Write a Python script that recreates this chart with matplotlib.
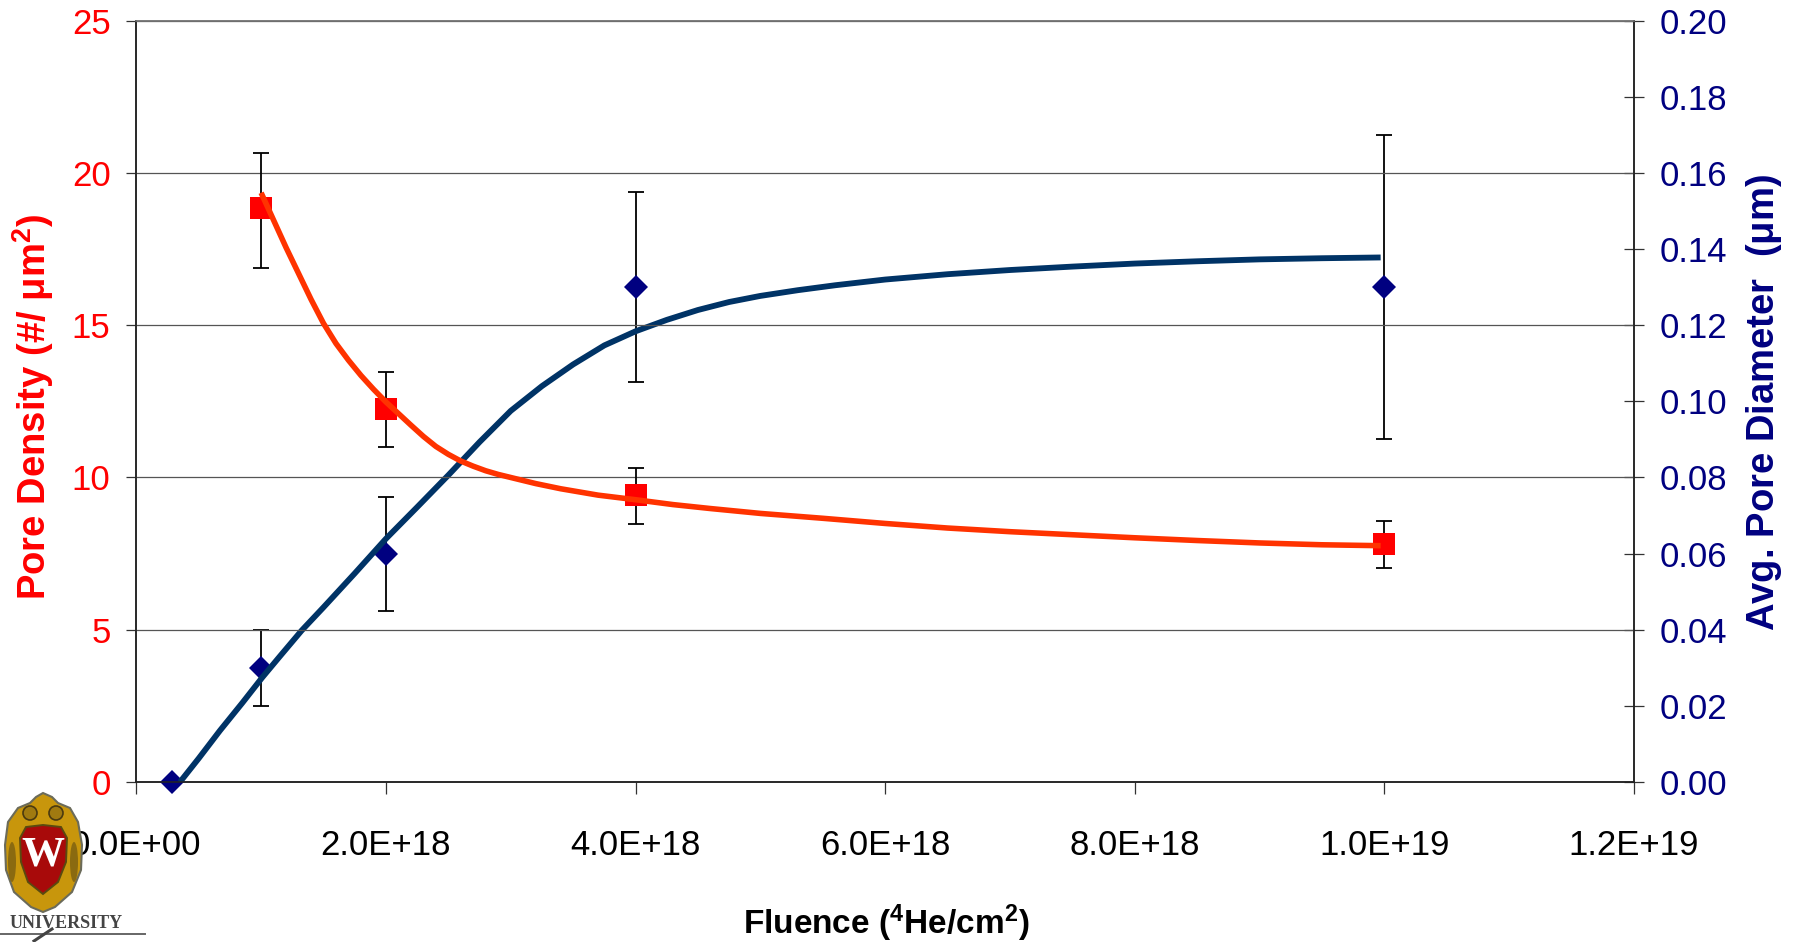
import numpy as np
import matplotlib
matplotlib.use("Agg")
import matplotlib.pyplot as plt
from matplotlib.patches import Ellipse, Polygon, Circle

plt.rcParams['font.family'] = ['Liberation Sans', 'DejaVu Sans']
plt.rcParams['mathtext.fontset'] = 'custom'
plt.rcParams['mathtext.rm'] = 'Liberation Sans'
plt.rcParams['mathtext.bf'] = 'Liberation Sans:bold'
plt.rcParams['mathtext.default'] = 'bf'

# fluence in units of 1e18 He/cm2
density_x = [1, 2, 4, 10]
density = [18.85, 12.26, 9.43, 7.82]
density_top = [20.64, 13.45, 10.31, 8.56]
density_bot = [16.88, 11.0, 8.47, 7.02]

diam_x = [0.29, 1, 2, 4, 10]
diam = [0.0, 0.03, 0.06, 0.13, 0.13]
diam_top = [0.0, 0.04, 0.075, 0.155, 0.17]
diam_bot = [0.0, 0.02, 0.045, 0.105, 0.09]

# trend curves
red_curve_x = [1.0, 1.1, 1.2, 1.3, 1.4, 1.5, 1.6, 1.7, 1.8, 1.9, 2.0, 2.1, 2.2, 2.3, 2.4, 2.5, 2.6, 2.7, 2.8, 2.9,
               3.0, 3.2, 3.4, 3.7, 4.0, 4.3, 4.6, 5.0, 5.5, 6.0, 6.5, 7.0, 7.5, 8.0, 8.5, 9.0, 9.5, 9.97]
red_curve_y = [19.35, 18.45, 17.55, 16.7, 15.85, 15.06, 14.4, 13.85, 13.35, 12.9, 12.48, 12.1, 11.72, 11.35, 11.02,
               10.76, 10.54, 10.37, 10.22, 10.1, 10.0, 9.8, 9.63, 9.42, 9.27, 9.11, 8.98, 8.82, 8.66, 8.49, 8.34,
               8.22, 8.12, 8.02, 7.93, 7.85, 7.79, 7.76]
blue_curve_x = [0.35, 0.5, 0.67, 0.85, 1.01, 1.15, 1.325, 1.5, 1.75, 2.0, 2.25, 2.5, 2.75, 3.0, 3.25, 3.5, 3.75, 4.0,
                4.25, 4.5, 4.75, 5.0, 5.3, 5.6, 6.0, 6.5, 7.0, 7.5, 8.0, 8.5, 9.0, 9.5, 9.97]
blue_curve_y = [0.0, 0.0062, 0.0135, 0.0208, 0.0275, 0.033, 0.0398, 0.0459, 0.0548, 0.0639, 0.0722, 0.0806, 0.0893,
                0.0975, 0.104, 0.1097, 0.1147, 0.1184, 0.1214, 0.124, 0.1261, 0.1277, 0.1292, 0.1305, 0.132, 0.1334,
                0.1345, 0.1354, 0.1362, 0.1368, 0.1373, 0.1376, 0.1378]

x_ticks = [0, 2, 4, 6, 8, 10, 12]
x_labels = ["0.0E+00", "2.0E+18", "4.0E+18", "6.0E+18", "8.0E+18", "1.0E+19", "1.2E+19"]
left_ticks = [0, 5, 10, 15, 20, 25]
right_ticks = [0.0, 0.02, 0.04, 0.06, 0.08, 0.10, 0.12, 0.14, 0.16, 0.18, 0.20]

RED = "#FF0000"
RED_LINE = "#FF3300"
NAVY = "#000080"
BLUE_LINE = "#003366"
W, H = 1800, 942

fig = plt.figure(figsize=(18, 9.42), dpi=100)
ax = fig.add_axes([136.3 / W, 1 - 782 / H, (1634 - 136.3) / W, (782 - 20.7) / H])
ax.set_xlim(0, 12)
ax.set_ylim(0, 25)
ax2 = ax.twinx()
ax2.set_ylim(0, 0.2)
ax.set_zorder(ax2.get_zorder() + 1)
ax.patch.set_visible(False)

ax2.grid(False)
ax2.errorbar(diam_x[1:], diam[1:],
             yerr=[np.array(diam[1:]) - np.array(diam_bot[1:]), np.array(diam_top[1:]) - np.array(diam[1:])],
             fmt='none', ecolor='black', elinewidth=1.3, capsize=5.6, capthick=1.3, zorder=2)
ax2.plot(diam_x, diam, 'D', color=NAVY, ms=12.6, mew=0, clip_on=False, zorder=3)
ax2.plot(blue_curve_x, blue_curve_y, color=BLUE_LINE, lw=4.2, solid_capstyle='butt', solid_joinstyle='round', zorder=4)

ax.set_yticks(left_ticks)
ax.yaxis.grid(True, color='#555555', lw=0.9, zorder=0)
ax.set_axisbelow(True)
ax.errorbar(density_x, density,
            yerr=[np.array(density) - np.array(density_bot), np.array(density_top) - np.array(density)],
            fmt='none', ecolor='black', elinewidth=1.3, capsize=5.6, capthick=1.3, zorder=2)
ax.plot(density_x, density, 's', color=RED, ms=16, mew=0, zorder=3)
ax.plot(red_curve_x, red_curve_y, color=RED_LINE, lw=4.0, solid_capstyle='butt', solid_joinstyle='round', zorder=4)

ax.set_xticks(x_ticks)
ax.set_xticklabels(x_labels, fontsize=25)
ax.tick_params(axis='x', direction='out', length=8.5, width=0.9, pad=25, color='#333333')
ax.tick_params(axis='y', direction='out', length=7.5, width=0.9, pad=11, labelsize=25, labelcolor=RED, color='#333333')
ax2.set_yticks(right_ticks)
ax2.set_yticklabels([f"{v:.2f}" for v in right_ticks], fontsize=25, color=NAVY)
ax2.tick_params(axis='y', direction='inout', length=15, width=0.9, pad=11, color='#333333')

for a in (ax, ax2):
    for side in ('left', 'right', 'bottom'):
        a.spines[side].set_linewidth(1.1)
        a.spines[side].set_color('#222222')
    a.spines['top'].set_linewidth(1.1)
    a.spines['top'].set_color('#777777')

fig.text(33 / W, 1 - 407 / H, r"Pore Density (#/ $\mu$m$^{\mathbf{2}}$)", color=RED, fontsize=27.5,
         fontweight='bold', rotation=90, ha='center', va='center')
fig.text(1764 / W, 1 - 402 / H, r"Avg. Pore Diameter  ($\mu$m)", color=NAVY, fontsize=27.5,
         fontweight='bold', rotation=90, ha='center', va='center')
fig.text(886 / W, 1 - 923 / H, r"Fluence ($^{\mathbf{4}}$He/cm$^{\mathbf{2}}$)", color='black', fontsize=24,
         fontweight='bold', ha='center', va='center')

# university crest, drawn in pixel coordinates
logo = fig.add_axes([0, 0, 1, 1], zorder=10)
logo.set_xlim(0, W)
logo.set_ylim(H, 0)
logo.axis('off')
logo.add_patch(Polygon([[43, 793], [52, 797], [58, 803], [70, 808], [78, 822], [82, 845], [81, 870], [72, 892],
                        [55, 907], [43, 912], [31, 907], [14, 892], [6, 870], [5, 845], [8, 822], [18, 808], [30, 803], [36, 797]],
                       fc='#C8960C', ec='#6B6B5A', lw=1.5))
logo.add_patch(Circle((30, 813), 7, fc='#A07A10', ec='#4A3A10', lw=1.2))
logo.add_patch(Circle((56, 813), 7, fc='#A07A10', ec='#4A3A10', lw=1.2))
logo.add_patch(Ellipse((12, 862), 8, 40, fc='#8A6A10', ec='none'))
logo.add_patch(Ellipse((74, 862), 8, 40, fc='#8A6A10', ec='none'))
logo.add_patch(Polygon([[20, 838], [26, 827], [43, 825], [61, 827], [67, 838], [66, 862], [58, 882], [43, 894], [28, 882], [21, 862]],
                       fc='#A80A0A', ec='#5A4A10', lw=1.4))
logo.text(43, 856, "W", color='white', fontsize=31, fontweight='bold', family='Liberation Serif', ha='center', va='center')
logo.text(66, 923, "UNIVERSITY", color='#444444', fontsize=13, fontweight='bold', family='Liberation Serif', ha='center', va='center')
logo.plot([0, 145], [934, 934], color='#666666', lw=1.4)
logo.plot([34, 52], [941, 929], color='#444444', lw=2.2)

fig.savefig("out.png", dpi=100)
